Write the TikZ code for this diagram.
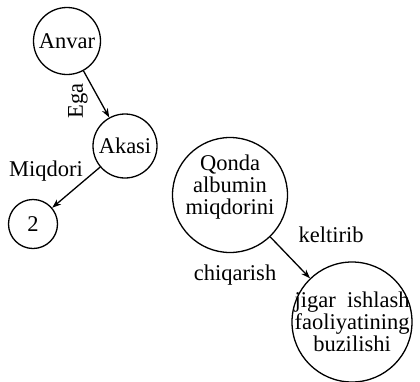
\documentclass[tikz,border=0pt]{standalone}
\usepackage{fontspec}
\setmainfont{Liberation Serif}
\usepackage{tikz}
\usetikzlibrary{positioning, arrows.meta, calc}
\tikzset{every picture/.append style={thick}}
\tikzset{
    bubble/.style={draw, circle, inner sep=0pt, line width=1.3pt},
    lbl/.style={font=\fontsize{22.5}{22}\selectfont, inner sep=0pt},
    link/.style={-{Stealth[length=9pt, width=6.5pt]}, line width=1.3pt},
}

\begin{document}
\begin{tikzpicture}[x=1pt, y=-1pt]
    \useasboundingbox (0,0) rectangle (420,381);

    % Circles
    \node[bubble, lbl, minimum size=67pt] (anvar) at (67,41) {Anvar};
    \node[bubble, lbl, minimum size=64pt] (akasi) at (125,146) {Akasi};
    \node[bubble, lbl, minimum size=49pt] (two) at (33,224) {2};
    \node[bubble, minimum size=115pt] (qonda) at (230,195) {};
    \node[bubble, minimum size=120pt] (jigar) at (352,322) {};

    % Circle texts
    \node[lbl, align=center] (qondatxt) at ([yshift=7.5pt]qonda.center) {Qonda\\albumin\\miqdorini};
    \node[lbl, align=center] (jigartxt) at (jigar.center) {jigar\ \ ishlash\\faoliyatining\\buzilishi};

    % Arrows
    \draw[link] (anvar) -- (akasi);
    \draw[link] (akasi) -- (two);
    \draw[link] (qonda) -- (jigar);

    % Arrow labels
    \node[lbl, rotate=90] (ega) at (78,101) {Ega};
    \node[lbl] (miqdori) at (46,171) {Miqdori};
    \node[lbl] (keltirib) at (331,235) {keltirib};
    \node[lbl] (chiqarish) at (235,275) {chiqarish};
\end{tikzpicture}
\end{document}
